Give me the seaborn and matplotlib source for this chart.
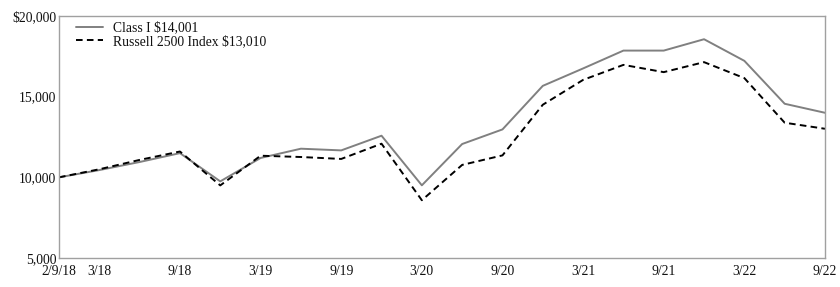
import matplotlib
matplotlib.use("Agg")
import matplotlib.pyplot as plt
import seaborn as sns
import pandas as pd
import numpy as np

periods = ["2/9/18", "3/18", "6/18", "9/18", "12/18", "3/19", "6/19", "9/19", "12/19",
           "3/20", "6/20", "9/20", "12/20", "3/21", "6/21", "9/21", "12/21", "3/22",
           "6/22", "9/22"]
class_i = [10000, 10450, 10950, 11500, 9750, 11200, 11775, 11670, 12580, 9505,
           12065, 12970, 15670, 16750, 17856, 17856, 18560, 17220, 14560, 14001]
russell = [10000, 10500, 11080, 11600, 9500, 11340, 11260, 11140, 12085, 8580,
           10770, 11360, 14500, 16040, 16970, 16520, 17140, 16150, 13385, 13010]
series_names = ["Class I $14,001", "Russell 2500 Index $13,010"]
tick_labels = ["2/9/18", "3/18", "9/18", "3/19", "9/19", "3/20", "9/20", "3/21",
               "9/21", "3/22", "9/22"]
y_ticks = [5000, 10000, 15000, 20000]

idx = list(range(len(periods)))
df = pd.DataFrame({
    "i": idx * 2,
    "value": class_i + russell,
    "series": [series_names[0]] * len(idx) + [series_names[1]] * len(idx),
})

sns.set_theme(style="white")
plt.rcParams["font.family"] = ["Liberation Serif", "DejaVu Serif"]
FS = 9.8
plt.rcParams["font.size"] = FS

fig = plt.figure(figsize=(8.4, 2.87), dpi=100)
ax = fig.add_axes([59 / 840, 1 - 258 / 287, (825 - 59) / 840, (258 - 16) / 287])

sns.lineplot(data=df, x="i", y="value", hue="series", style="series",
             palette={series_names[0]: "#808080", series_names[1]: "#000000"},
             dashes={series_names[0]: "", series_names[1]: (3.4, 2.2)},
             linewidth=1.4, ax=ax, legend=True)

tick_pos = [periods.index(t) for t in tick_labels]
ax.set_xticks(tick_pos)
ax.set_xticklabels(tick_labels)
ax.set_xlim(0, len(periods) - 1)
ax.set_ylim(5000, 20000)
ax.set_yticks(y_ticks)
ax.set_yticklabels(["5,000", "10,000", "15,000", "$20,000"])
ax.set_xlabel("")
ax.set_ylabel("")

for s in ax.spines.values():
    s.set_color("#a0a0a0")
    s.set_linewidth(1.0)
ax.tick_params(axis="x", direction="inout", length=8, width=1.0, color="#a0a0a0",
               labelsize=FS, pad=1, labelcolor="#111111")
ax.tick_params(axis="y", direction="in", length=6, width=1.0, color="#a0a0a0",
               labelsize=FS, pad=2, labelcolor="#111111")

leg = ax.legend(loc="upper left", frameon=False, bbox_to_anchor=(0.015, 1.0),
                handlelength=2.0, handletextpad=0.7, labelspacing=0.05,
                borderaxespad=0.0, fontsize=FS)
for t in leg.get_texts():
    t.set_color("#111111")

fig.savefig("out.png", dpi=100)
